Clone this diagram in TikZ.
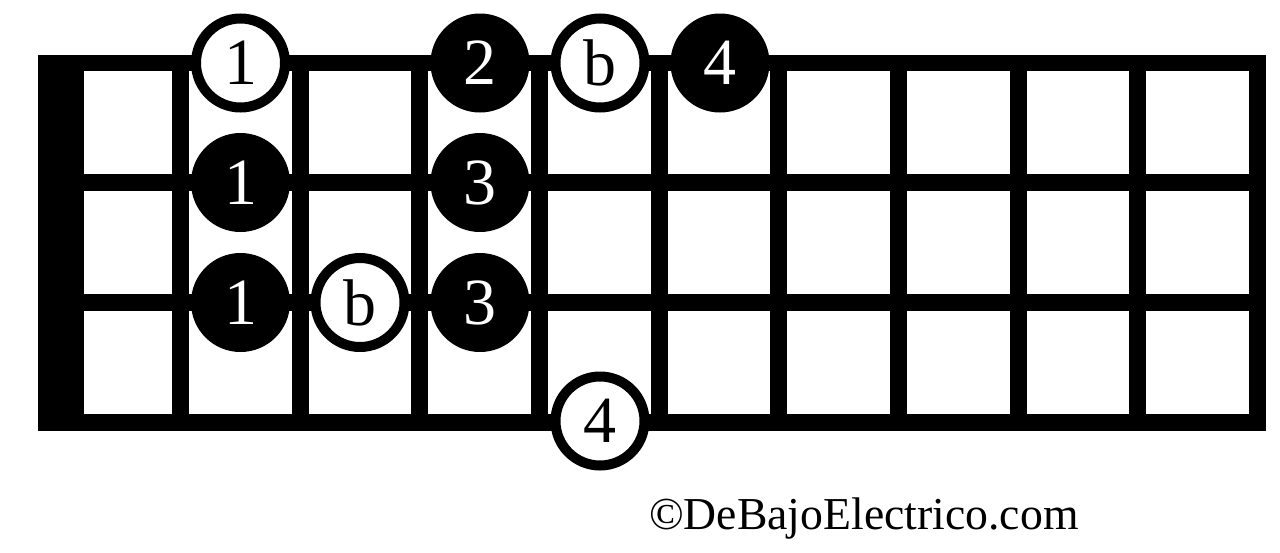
\documentclass[tikz,border=0pt]{standalone}
\usepackage{fontspec}
\setmainfont{Liberation Serif}
\begin{document}
\begin{tikzpicture}[x=1pt,y=-1pt,
  openmark/.style={circle,draw=black,line width=10pt,fill=white,minimum size=89pt,inner sep=0pt,text=black,font=\fontsize{66}{66}\selectfont},
  fullmark/.style={circle,fill=black,minimum size=99pt,inner sep=0pt,text=white,font=\fontsize{66}{66}\selectfont},
  credit/.style={anchor=base west,inner sep=0pt,font=\fontsize{45.7}{45.7}\selectfont}]
\useasboundingbox (0,0) rectangle (1280,552);
\fill[white] (0,0) rectangle (1280,552);
% nut
\fill[black] (38,54.5) rectangle (84,431);
% strings
\foreach \yc in {62.75,182.5,302.5,422.5}
  \fill[black] (38,\yc-8.25) rectangle (1266,\yc+8.25);
% frets
\foreach \k in {0,...,9}
  \fill[black] ({180.5+119.67*\k-8.5},54.5) rectangle ({180.5+119.67*\k+8.5},431);
% marks
\node[openmark] (a1) at (240.5,63) {1};
\node[fullmark] (a2) at (480,63) {2};
\node[openmark] (a3) at (600,63) {b};
\node[fullmark] (a4) at (720,63) {4};
\node[fullmark] (b1) at (240.5,182.5) {1};
\node[fullmark] (b2) at (480,182.5) {3};
\node[fullmark] (c1) at (240.5,302.5) {1};
\node[openmark] (c2) at (360,302.5) {b};
\node[fullmark] (c3) at (480,302.5) {3};
\node[openmark] (d1) at (600,421) {4};
\node[credit] (cr) at (649,529) {©DeBajoElectrico.com};
\end{tikzpicture}
\end{document}
